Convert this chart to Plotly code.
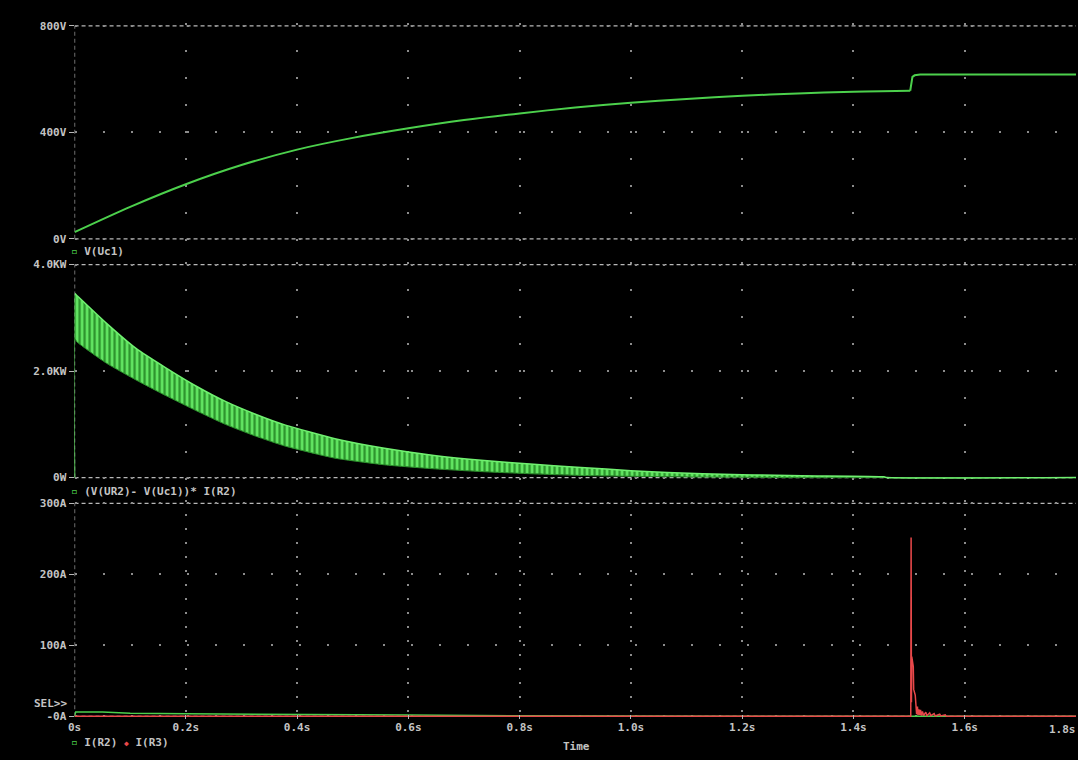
import plotly.graph_objects as go

# ---------------- data ----------------
# Panel 1: V(Uc1)  [V]
t_v = [0, 0.1, 0.2, 0.3, 0.4, 0.5, 0.6, 0.7, 0.8, 0.9, 1.0, 1.1, 1.2, 1.3, 1.4,
       1.45, 1.502, 1.504, 1.506, 1.51, 1.52, 1.8]
v_uc1 = [25, 120, 205, 277, 335, 379, 415, 446, 471, 493, 511, 525, 537, 546, 552,
         554, 556, 590, 608, 614, 617, 617]
JUMP = 16  # index of the last sample before the step at ~1.50 s

# Panel 2: (V(UR2)-V(Uc1))*I(R2)  [W] - oscillating band, upper / lower envelope
t_p = [0, 0.001, 0.004, 0.057, 0.111, 0.164, 0.218, 0.271, 0.325, 0.379, 0.468,
       0.557, 0.646, 0.736, 0.825, 0.91, 1.0, 1.129, 1.307, 1.455, 1.46, 1.8]
p_upper = [0, 3450, 3420, 2900, 2420, 2060, 1720, 1430, 1190, 985, 730,
           550, 415, 320, 250, 190, 130, 70, 35, 15, 0, 0]
p_lower = [0, 2600, 2550, 2150, 1830, 1540, 1260, 1000, 780, 590, 365,
           240, 165, 110, 70, 40, 25, 10, 0, 0, 0, 0]

# Panel 3: I(R2) and I(R3)  [A]
t_i2 = [0, 0.002, 0.05, 0.1, 0.2, 0.4, 0.6, 0.8, 1.0, 1.2, 1.8]
i_r2 = [0, 6, 6, 4.5, 3.6, 3.2, 2.0, 0.8, 0.3, 0, 0]

t_i3 = [0, 1.5030, 1.5036, 1.5042, 1.5048, 1.5075, 1.5082, 1.5110, 1.5118, 1.5135,
        1.5150, 1.5160, 1.5175, 1.5190, 1.5205, 1.5220, 1.5240, 1.5260, 1.5300,
        1.5320, 1.5370, 1.5390, 1.5450, 1.5470, 1.5550, 1.5570, 1.5650, 1.5670,
        1.5720, 1.8]
i_r3 = [0, 0, 252, 20, 84, 70, 38, 30, 12, 3,
        14, 2, 10, 2, 9, 1, 7, 1, 6,
        1, 5, 1, 4, 0.5, 3, 0.5, 2, 0,
        0, 0]

x_ticks = [0, 0.2, 0.4, 0.6, 0.8, 1.0, 1.2, 1.4, 1.6, 1.8]
x_labels = ["0s", "0.2s", "0.4s", "0.6s", "0.8s", "1.0s", "1.2s", "1.4s", "1.6s", "1.8s"]
y1_ticks, y1_labels = [0, 400, 800], ["0V", "400V", "800V"]
y2_ticks, y2_labels = [0, 2000, 4000], ["0W", "2.0KW", "4.0KW"]
y3_ticks, y3_labels = [0, 100, 200, 300], ["-0A", "100A", "200A", "300A"]

# ---------------- layout geometry ----------------
W, H = 1078, 760
X0, X1 = 68, 1076
PAD = 3
panels = [  # (top px, zero px, vmax)
    (23, 238, 800),
    (264, 479, 4000),
    (505, 720, 300),
]

GREEN = "#4cd04c"
BRIGHT = "#70f070"
RED = "#e8484a"
TXT = "#c4c4c4"
AX = "#b8b8b8"
GRID = "#8c8c8c"
FONT = dict(family="DejaVu Sans Mono", size=11, color=TXT, weight="bold")

fig = go.Figure()

# smooth charging part, then the step drawn straight
fig.add_trace(go.Scatter(x=t_v[:JUMP + 1], y=v_uc1[:JUMP + 1], mode="lines",
                         line=dict(color=GREEN, width=2, shape="spline", smoothing=0.8),
                         xaxis="x", yaxis="y", showlegend=False))
fig.add_trace(go.Scatter(x=t_v[JUMP:], y=v_uc1[JUMP:], mode="lines",
                         line=dict(color=GREEN, width=2),
                         xaxis="x", yaxis="y", showlegend=False))

fig.add_trace(go.Scatter(x=t_p, y=p_lower, mode="lines",
                         line=dict(color="#2c8f2c", width=1, shape="spline", smoothing=0.5),
                         xaxis="x2", yaxis="y2", showlegend=False))
fig.add_trace(go.Scatter(x=t_p, y=p_upper, mode="lines",
                         line=dict(color=BRIGHT, width=1.5, shape="spline", smoothing=0.5),
                         fill="tonexty", fillcolor="#2f9a2f",
                         fillpattern=dict(shape="|", bgcolor="#2e952e", fgcolor="#6cf56c",
                                          size=5, solidity=0.45, fillmode="replace"),
                         xaxis="x2", yaxis="y2", showlegend=False))

fig.add_trace(go.Scatter(x=t_i2, y=i_r2, mode="lines", line=dict(color=GREEN, width=1.5),
                         xaxis="x3", yaxis="y3", showlegend=False))
fig.add_trace(go.Scatter(x=t_i3, y=i_r3, mode="lines", line=dict(color=RED, width=1.5),
                         xaxis="x3", yaxis="y3", showlegend=False))

layout = dict(
    width=W, height=H, autosize=False,
    margin=dict(l=0, r=0, t=0, b=0),
    paper_bgcolor="black", plot_bgcolor="black",
    font=FONT,
)

ydefs = [(y1_ticks, y1_labels), (y2_ticks, y2_labels), (y3_ticks, y3_labels)]
vdash = ["2px,25px", "2px,25px", "2px,12px"]
shapes = []
for k, ((top, zero, vmax), (tv, tl)) in enumerate(zip(panels, ydefs)):
    n = "" if k == 0 else str(k + 1)
    span = zero - top
    per_px = vmax / span
    yrange = [-PAD * per_px, vmax + PAD * per_px]
    ydom = [1 - (zero + PAD) / H, 1 - (top - PAD) / H]
    layout["xaxis" + n] = dict(
        domain=[X0 / W, X1 / W], range=[0, 1.8], anchor="y" + n,
        tickvals=x_ticks, ticktext=x_labels[:-1] + [""], showticklabels=(k == 2),
        ticks="inside" if k == 2 else "", ticklen=4, tickcolor=AX,
        showgrid=True, gridcolor=GRID, gridwidth=2, griddash=vdash[k],
        zeroline=False, showline=False, tickfont=FONT,
    )
    layout["yaxis" + n] = dict(
        domain=ydom, range=yrange, anchor="x" + n,
        tickvals=tv, ticktext=tl, ticks="outside", ticklen=5, tickcolor=AX,
        showgrid=True, gridcolor=GRID, gridwidth=2, griddash="2px,26px",
        zeroline=False, showline=False, tickfont=FONT,
    )
    xr, yr = "x" + n, "y" + n
    for yv in (0, vmax):
        shapes.append(dict(type="line", xref=xr, yref=yr, x0=0, x1=1.8, y0=yv, y1=yv,
                           line=dict(color=AX, width=1.2, dash="4px,3px"), layer="below"))
    shapes.append(dict(type="line", xref=xr, yref=yr, x0=0, x1=0, y0=0, y1=vmax,
                       line=dict(color=AX, width=1.2, dash="4px,3px"), layer="below"))

layout["shapes"] = shapes


def ann(px, py, text, xanchor="left", yanchor="middle"):
    return dict(xref="paper", yref="paper", x=px / W, y=1 - py / H, text=text,
                showarrow=False, xanchor=xanchor, yanchor=yanchor, font=FONT)


sq_g = '<span style="color:#4cd04c">▫</span>'
dot_r = '<span style="color:#e8484a;font-size:8px">◆</span>'
layout["annotations"] = [
    ann(62, 251, sq_g + " V(Uc1)"),
    ann(62, 493, sq_g + " (V(UR2)- V(Uc1))* I(R2)"),
    ann(62, 746, sq_g + " I(R2) " + dot_r + " I(R3)"),
    ann(62, 707, "SEL>>", xanchor="right"),
    ann(573, 759, "Time", xanchor="center", yanchor="bottom"),
    ann(1078, 733, x_labels[-1], xanchor="right"),
]

fig.update_layout(**layout)
fig.write_html("out.html", config={"displayModeBar": False},
               post_script="document.body.style.margin='0';document.body.style.overflow='hidden';")
